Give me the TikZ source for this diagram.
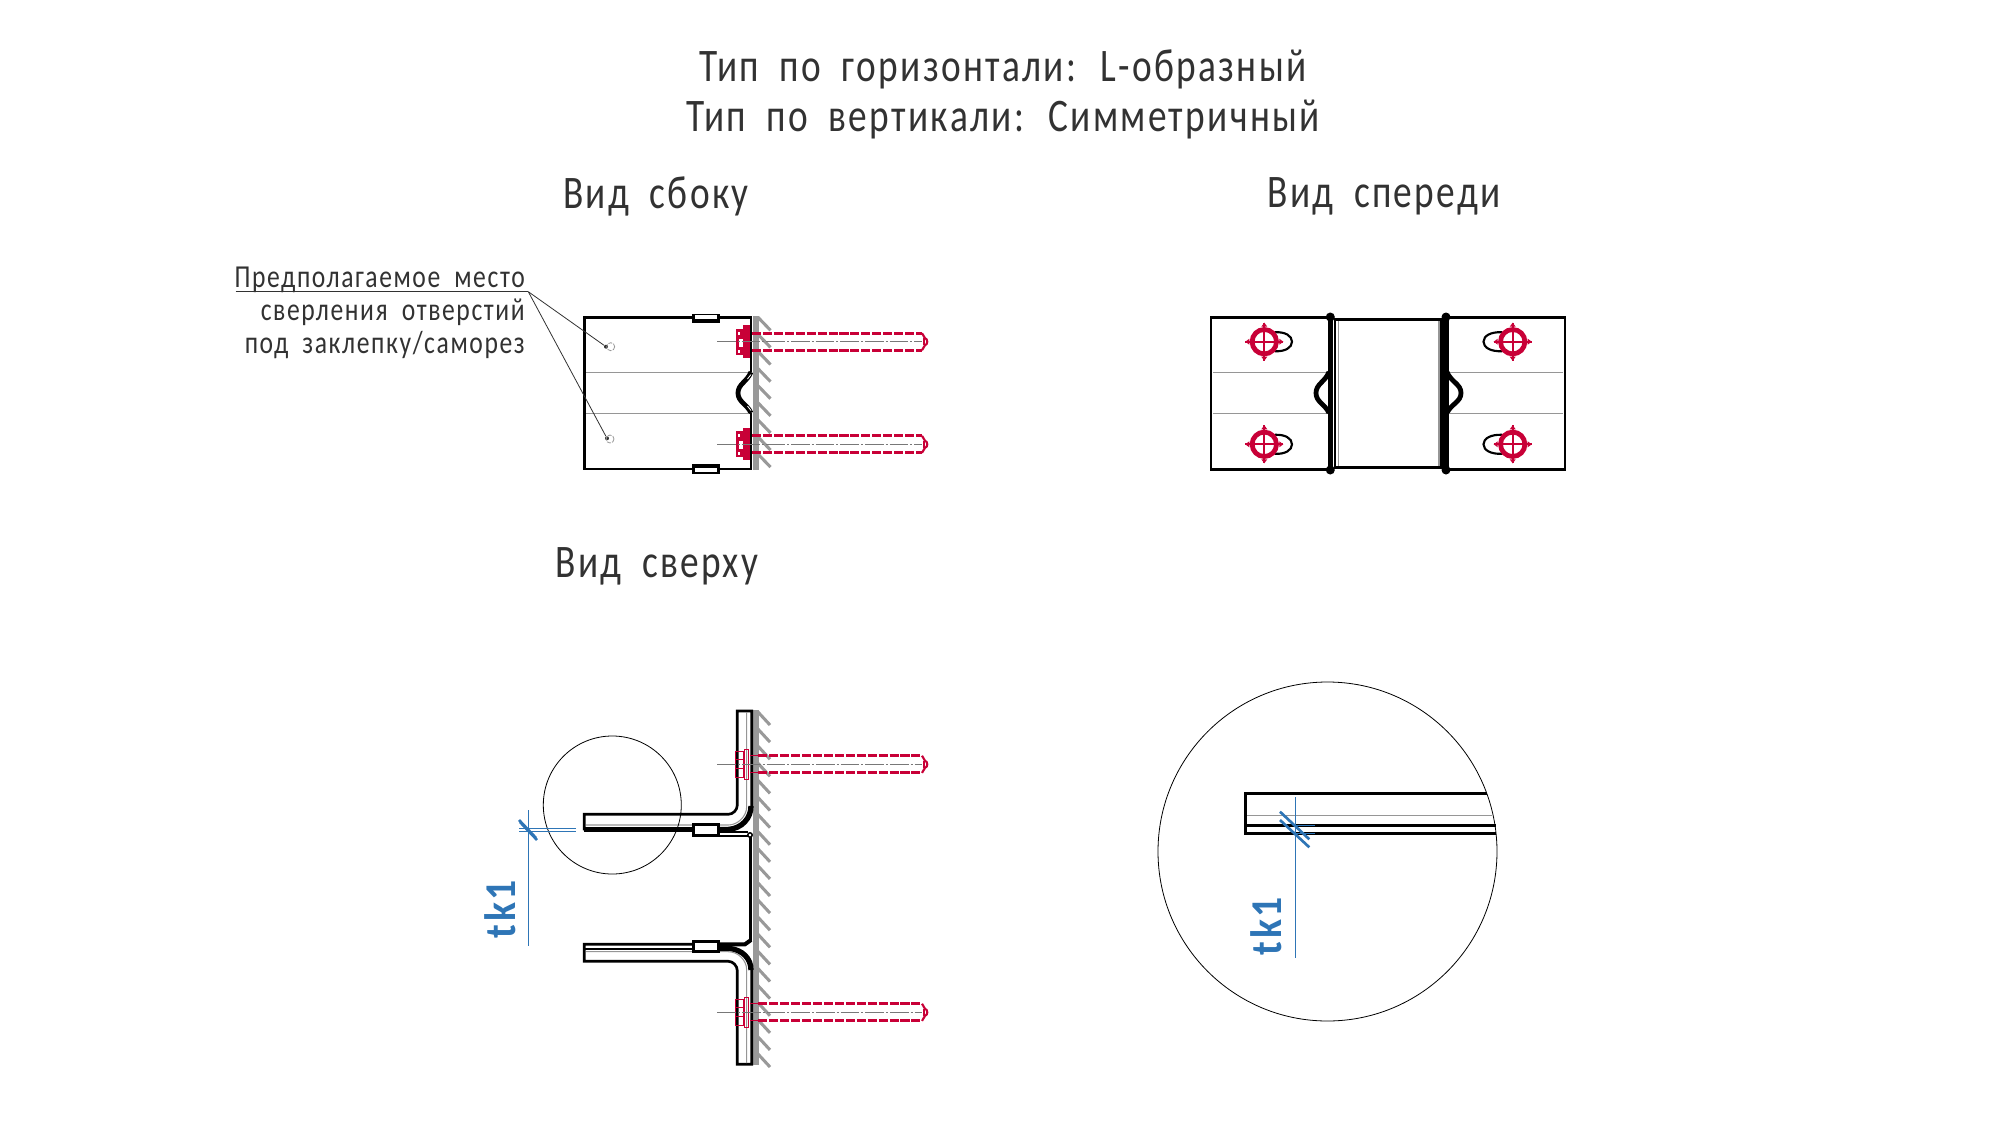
\documentclass[tikz,border=0pt]{standalone}
\usepackage{fontspec}
\setmainfont[FakeStretch=0.8,LetterSpace=5,WordSpace=1.9]{Carlito}
\newfontfamily\dimfont[FakeStretch=0.9,LetterSpace=6]{Carlito}
\definecolor{boltred}{RGB}{200,0,55}
\definecolor{wallgray}{RGB}{153,153,153}
\definecolor{thingray}{RGB}{150,150,150}
\definecolor{axisgray}{RGB}{120,120,120}
\definecolor{textgray}{RGB}{50,50,50}
\definecolor{dimblue}{RGB}{46,117,182}
\tikzset{
  plate/.style={black,line width=2pt},
  foldline/.style={thingray,line width=0.8pt},
  wall/.style={wallgray,line width=4.5pt},
  wallhatch/.style={wallgray,line width=2.3pt},
  boltline/.style={boltred,line width=2.2pt,dash pattern=on 6.8pt off 1.4pt},
  boltthin/.style={boltred,line width=0.7pt},
  axisline/.style={axisgray,line width=0.8pt,dash pattern=on 14pt off 1.5pt on 1.5pt off 1.5pt},
  detailcircle/.style={black,line width=0.6pt},
  dimline/.style={dimblue,line width=0.8pt},
  dimtick/.style={dimblue,line width=2pt},
  viewtitle/.style={text=textgray,inner sep=0pt,align=center,font=\fontsize{35}{37.5}\selectfont},
  notetext/.style={text=textgray,inner sep=0pt,align=right,font=\fontsize{24}{24.7}\selectfont},
  dimtext/.style={text=dimblue,inner sep=0pt,rotate=90,font=\dimfont\bfseries\fontsize{33}{36}\selectfont},
  holedot/.style={circle,fill=textgray,inner sep=0pt,minimum size=3pt},
}
\begin{document}
\begin{tikzpicture}[x=0.75pt,y=0.75pt,yscale=-1,xscale=1]
\useasboundingbox (0,0) rectangle (2000,1125);

% Text Node
\node[viewtitle] (maintitle) at (1003,94) {Тип по горизонтали: L-образный\\Тип по вертикали: Симметричный};
\node[viewtitle] (sidetitle) at (656,196) {Вид сбоку};
\node[viewtitle] (fronttitle) at (1384,196) {Вид спереди};
\node[viewtitle] (toptitle) at (657,566) {Вид сверху};
\node[notetext,anchor=north east] (drillnote) at (525,267) {Предполагаемое место\\сверления отверстий\\под заклепку/саморез};

%Side view: plate
\draw[plate] (751,372) -- (751,317.3) -- (584.3,317.3) -- (584.3,469) -- (751,469) -- (751,413);
\draw[foldline] (586,372.3) -- (748,372.3);
\draw[foldline] (586,413.3) -- (748,413.3);
\draw[plate,line width=3.6pt] (751,372) .. controls (747,382) and (738,384) .. (738,393) .. controls (738,402) and (747,404) .. (751,413);
\draw[white,line width=0.6pt] (751,374.5) -- (747.5,379);
\draw[white,line width=0.6pt] (751,410.5) -- (747.5,406);
%Side view: clips
\draw[fill=black,draw=none] (692.3,313.5) rectangle (720,322.5);
\draw[fill=white,draw=none] (695,315) rectangle (717.3,318.5);
\draw[fill=black,draw=none] (692.3,463.5) rectangle (720,473.5);
\draw[fill=white,draw=none] (695,467.5) rectangle (717.3,471.5);
%Side view: wall and bolts
\draw[wall] (756,316) -- (756,469.5);
\foreach \i in {0,...,8}
  \draw[wallhatch] (758,317.3+\i*17.1) -- ++(12.5,13);
\foreach \y in {341.7,444.3} {
  \draw[fill=boltred,draw=none] (735.7,\y-13) rectangle (744,\y+13);
  \draw[fill=boltred,draw=none] (743,\y-16.5) rectangle (750,\y+16);
  \draw[fill=white,draw=none] (737.5,\y-10) rectangle (740,\y-7);
  \draw[fill=white,draw=none] (738.5,\y-3) rectangle (742.5,\y+5);
  \draw[fill=white,draw=none] (737.5,\y+8) rectangle (740,\y+11);
  \draw[boltline] (752,\y-8.5) -- (922,\y-8.5);
  \draw[boltline] (752,\y+8.5) -- (922,\y+8.5);
  \draw[boltred,line width=1.6pt] (922,\y-8.5) -- (925,\y-3.5) .. controls (928,\y-3) and (928,\y+3) .. (925,\y+3.5) -- (922,\y+8.5);
  \draw[boltred,line width=1.2pt] (924,\y-3.5) -- (924,\y+3.5);
  \draw[axisline] (717,\y) -- (922,\y);
}
%Side view: drill marks
\node[holedot] (holeupper) at (606,346.7) {};
\node[holedot] (holelower) at (607,438.3) {};
\draw[thingray,line width=0.6pt,dash pattern=on 3pt off 1pt] (610.7,346.7) circle [radius=4];
\draw[thingray,line width=0.6pt,dash pattern=on 3pt off 1pt] (610,439) circle [radius=4];
%Leader
\coordinate (leaderroot) at (528.3,291.7);
\coordinate (leaderend) at (235.7,291.7);
\draw[textgray,line width=0.7pt] (leaderend) -- (leaderroot);
\draw[textgray,line width=0.6pt] (leaderroot) -- (holeupper);
\draw[textgray,line width=0.6pt] (leaderroot) -- (holelower);

%Front view: plates
\draw[plate] (1328,317.3) -- (1211,317.3) -- (1211,469.3) -- (1328,469.3);
\draw[plate] (1448,317.3) -- (1565,317.3) -- (1565,469.3) -- (1448,469.3);
\draw[plate] (1335,319.3) rectangle (1441.2,467.3);
\draw[foldline] (1213,372.3) -- (1327,372.3);
\draw[foldline] (1213,413.3) -- (1327,413.3);
\draw[foldline] (1450,372.3) -- (1563,372.3);
\draw[foldline] (1450,413.3) -- (1563,413.3);
\draw[foldline] (1338.5,321) -- (1338.5,466);
\draw[foldline] (1439,321) -- (1439,466);
\foreach \x in {1330.3,1446} {
  \draw[black,line width=3.8pt] (\x,317) -- (\x,470);
  \fill[black] (\x,317) circle [radius=4.5];
  \fill[black] (\x,470) circle [radius=4.5];
}
\draw[plate,line width=3.6pt] (1329,372) .. controls (1325,382) and (1316,384) .. (1316,393) .. controls (1316,402) and (1325,404) .. (1329,413);
\draw[plate,line width=3.6pt] (1447,372) .. controls (1451,382) and (1461,384) .. (1461,393) .. controls (1461,402) and (1451,404) .. (1447,413);
%Front view: slots and screws
\foreach \y in {341.7,444.3} {
  \draw[plate,line width=1.6pt] (1275,\y-9.5) .. controls (1285,\y-10) and (1292,\y-6) .. (1292,\y) .. controls (1292,\y+6) and (1285,\y+10) .. (1275,\y+9.5);
  \draw[plate,line width=1.6pt] (1502,\y-9.5) .. controls (1491,\y-10) and (1483.5,\y-6) .. (1483.5,\y) .. controls (1483.5,\y+6) and (1491,\y+10) .. (1502,\y+9.5);
  \foreach \x in {1264.3,1512.7} {
    \draw[boltred,line width=3.6pt] (\x,\y) circle [radius=12.2];
    \draw[boltred,line width=1.5pt] (\x-19,\y) -- (\x+19,\y);
    \draw[boltred,line width=1.5pt] (\x,\y-19) -- (\x,\y+19);
    \fill[boltred] (\x-15,\y-3) -- (\x-15,\y+3) -- (\x-19,\y) -- cycle;
    \fill[boltred] (\x+15,\y-3) -- (\x+15,\y+3) -- (\x+19,\y) -- cycle;
    \fill[boltred] (\x-3,\y-15) -- (\x+3,\y-15) -- (\x,\y-19) -- cycle;
    \fill[boltred] (\x-3,\y+15) -- (\x+3,\y+15) -- (\x,\y+19) -- cycle;
  }
}

%Top view: wall
\draw[wall] (756,710) -- (756,1065);
\foreach \i in {0,...,20}
  \draw[wallhatch] (758,712+\i*17.1) -- ++(12,13);
%Top view: upper bracket
\draw[plate] (751.7,806) -- (751.7,711) -- (737.3,711) -- (737.3,805) .. controls (737.3,810) and (733,814.3) .. (728.3,814.3) -- (584.3,814.3) -- (584.3,830.3);
\draw[black,line width=4pt] (584.3,829.5) -- (695,829.5);
\draw[black,line width=4pt] (751,806) .. controls (751,818) and (742,828.5) .. (728,829.5) -- (695,829.5);
\draw[foldline] (586,825) -- (728.3,825) .. controls (738,825) and (746.7,816) .. (746.7,806.7) -- (746.7,712);
\draw[plate,fill=white] (693.8,824.5) rectangle (718.5,835.2);
\draw[plate,line width=1.3pt] (719,832) -- (748,832);
\draw[plate,line width=1.3pt] (719,836) -- (748,836);
\draw[plate,line width=1.1pt,fill=white] (750,835) circle [radius=2.2];
\draw[plate] (750.7,837) -- (750.7,941.5);
%Top view: lower bracket
\draw[plate] (751.7,970) -- (751.7,1064.3) -- (737.3,1064.3) -- (737.3,970.7) .. controls (737.3,965.7) and (733,961.3) .. (728.3,961.3) -- (584.3,961.3) -- (584.3,944.3) -- (694,944.3);
\draw[plate] (584.3,949) -- (694,949);
\draw[plate,line width=3pt] (719,944.3) -- (745,944.3) -- (751,940);
\draw[black,line width=4pt] (719,948.5) -- (730,948.5) .. controls (742,950) and (751,958) .. (751,970);
\draw[foldline] (586,951.7) -- (728.3,951.7) .. controls (738,951.7) and (746.7,960) .. (746.7,970) -- (746.7,1063);
\draw[plate,fill=white] (693.8,941.3) rectangle (718.5,951.2);
%Top view: bolts
\foreach \y in {764.3,1012.3} {
  \draw[boltthin] (735.7,\y-13) rectangle (743.3,\y+13);
  \draw[boltthin] (735.7,\y-4.5) -- (743.3,\y-4.5);
  \draw[boltthin] (735.7,\y+4.5) -- (743.3,\y+4.5);
  \draw[boltthin] (744.3,\y-15) rectangle (748.3,\y+15);
  \draw[boltline] (758.3,\y-8.6) -- (922,\y-8.6);
  \draw[boltline] (758.3,\y+8.6) -- (922,\y+8.6);
  \draw[boltthin] (750,\y-8.6) -- (758.3,\y-8.6);
  \draw[boltthin] (750,\y+8.6) -- (758.3,\y+8.6);
  \draw[boltred,line width=1.6pt] (922,\y-8.6) -- (925,\y-3.5) .. controls (928,\y-3) and (928,\y+3) .. (925,\y+3.5) -- (922,\y+8.6);
  \draw[boltred,line width=1.2pt] (924,\y-3.5) -- (924,\y+3.5);
  \draw[axisline] (717.3,\y) -- (922,\y);
}
%Top view: detail circle and dimension
\draw[detailcircle] (612.3,805) circle [radius=69];
\draw[dimline] (519,828.3) -- (575.7,828.3);
\draw[dimline] (519,831.3) -- (575.7,831.3);
\draw[dimline] (528.3,810) -- (528.3,945.7);
\draw[dimtick] (519,820) -- (536,838);
\draw[dimtick] (520,822) -- (537,840);
\node[dimtext] (dimleft) at (500,909) {tk1};

%Detail view
\draw[plate] (1486.7,793.3) -- (1245.7,793.3) -- (1245.7,833.3) -- (1496,833.3);
\draw[plate] (1245.7,825.3) -- (1496,825.3);
\draw[foldline] (1247,815.3) -- (1491.7,815.3);
\draw[detailcircle] (1327.5,851.5) circle [radius=169.5];
\draw[dimline] (1295.3,797.3) -- (1295.3,958.3);
\draw[dimline] (1295.3,825.3) -- (1315,825.3);
\draw[dimline] (1295.3,833.3) -- (1315,833.3);
\draw[dimtick] (1280,811.7) -- (1309.3,839.3);
\draw[dimtick] (1280,820) -- (1309.3,847.3);
\node[dimtext] (dimright) at (1266,926) {tk1};
\end{tikzpicture}
\end{document}
